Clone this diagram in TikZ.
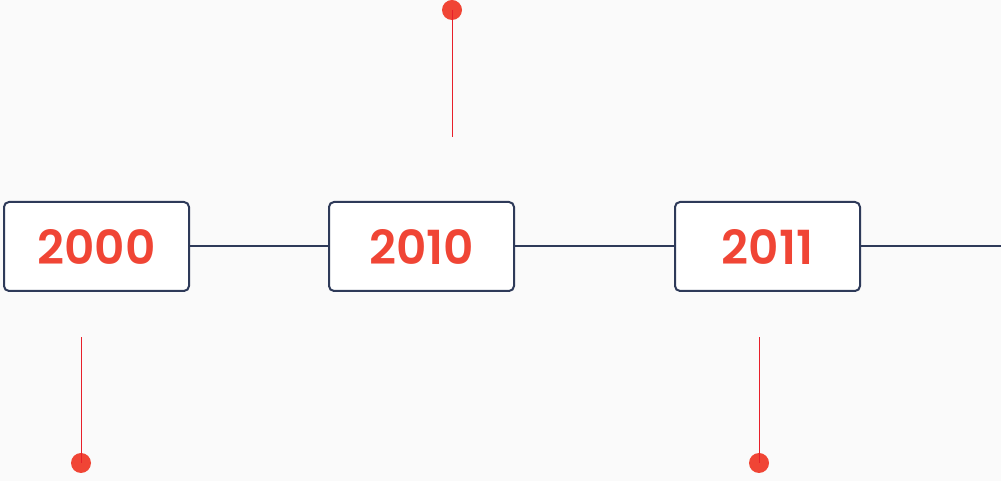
\documentclass[tikz,border=0pt]{standalone}
\usepackage{fontspec}
\setmainfont{Poppins}[BoldFont={Poppins SemiBold}]
\definecolor{bg}{HTML}{FAFAFA}
\definecolor{navy}{HTML}{2E3A59}
\definecolor{accent}{HTML}{F04535}
\definecolor{stem}{HTML}{E8202A}
\begin{document}
\begin{tikzpicture}[x=1pt,y=1pt,
  yearbox/.style={draw=navy,line width=2pt,fill=white,rounded corners=5pt,
    minimum width=185pt,minimum height=89pt,inner sep=0pt,
    font=\fontsize{47}{50}\selectfont\bfseries,text=accent},
  link/.style={draw=navy,line width=2pt},
  stemline/.style={draw=stem,line width=1pt},
  dot/.style={circle,fill=accent,minimum size=20pt,inner sep=0pt}]
\fill[bg] (0,0) rectangle (1001,481);
\useasboundingbox (0,0) rectangle (1001,481);
\node[yearbox] (b1) at (96.5,234.5) {\raisebox{-4pt}{2000}};
\node[yearbox] (b2) at (421.5,234.5) {\raisebox{-4pt}{2010}};
\node[yearbox] (b3) at (767.5,234.5) {\raisebox{-4pt}{2011}};
\coordinate (e) at (1001,234.5);
\draw[link] (b1.east) -- (b2.west);
\draw[link] (b2.east) -- (b3.west);
\draw[link] (b3.east) -- (e);
\node[dot] (d2) at (452,471) {};
\coordinate (s2) at (452,344);
\draw[stemline] (d2.center) -- (s2);
\node[dot] (d1) at (81,18) {};
\coordinate (s1) at (81,144);
\draw[stemline] (d1.center) -- (s1);
\node[dot] (d3) at (759,18) {};
\coordinate (s3) at (759,144);
\draw[stemline] (d3.center) -- (s3);
\end{tikzpicture}
\end{document}
